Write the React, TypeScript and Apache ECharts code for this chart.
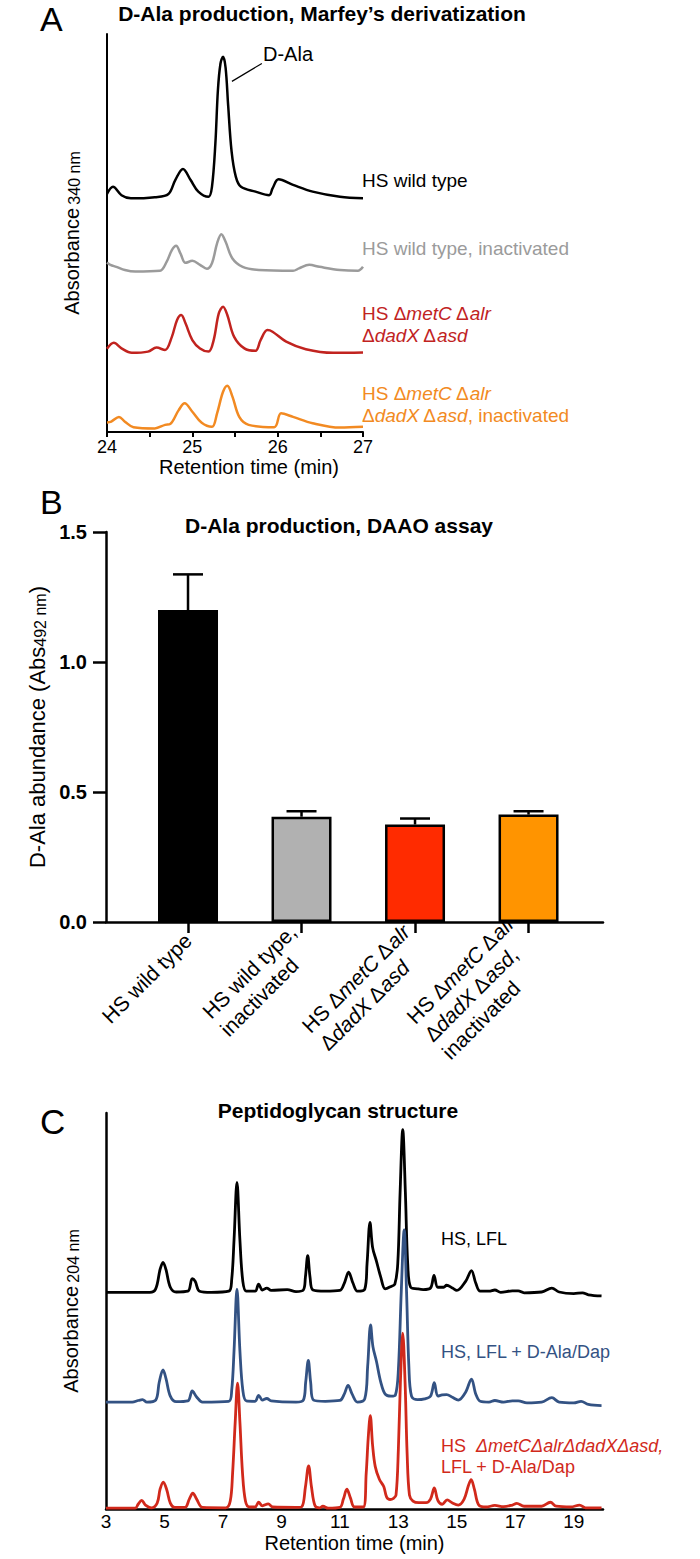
import React, { useEffect, useRef } from 'react';
import * as echarts from 'echarts';

const FONT = '"Liberation Sans", Arial, Helvetica, sans-serif';

// ---------------- Panel A : Marfey's derivatization chromatograms ----------------
const timeTicksA = [24, 25, 26, 27];
const traceA_wildType: [number, number][] = [
  [24.0, 59.8], [24.07, 61.6], [24.17, 59.5], [24.28, 58.7], [24.56, 59.0], [24.72, 59.8], [24.8, 63.3],
  [24.89, 66.1], [24.98, 63.3], [25.07, 60.4], [25.19, 59.1], [25.23, 61.6], [25.27, 72.5], [25.3, 86.0],
  [25.33, 92.6], [25.36, 94.3], [25.39, 91.5], [25.42, 82.0], [25.46, 70.5], [25.51, 64.1], [25.57, 61.6],
  [25.74, 60.4], [25.9, 59.5], [25.94, 61.2], [26.01, 63.5], [26.18, 62.1], [26.41, 60.4], [26.73, 59.1],
  [27.0, 58.7],
];
const traceA_wildTypeInact: [number, number][] = [
  [24.0, 42.6], [24.04, 42.0], [24.11, 41.5], [24.21, 40.7], [24.33, 40.3], [24.62, 40.5], [24.7, 42.8],
  [24.76, 45.7], [24.81, 46.8], [24.86, 44.9], [24.92, 42.5], [25.0, 43.0], [25.09, 42.0], [25.17, 41.0],
  [25.23, 42.4], [25.29, 47.4], [25.34, 49.7], [25.39, 47.8], [25.47, 43.6], [25.59, 41.5], [25.78, 40.7],
  [26.18, 40.5], [26.25, 41.1], [26.37, 42.0], [26.49, 41.5], [26.73, 40.7], [26.94, 40.5], [27.0, 41.5],
];
const traceA_mutant: [number, number][] = [
  [24.0, 20.9], [24.08, 22.4], [24.17, 21.0], [24.29, 19.9], [24.48, 20.2], [24.58, 21.2], [24.68, 20.6],
  [24.76, 23.9], [24.82, 28.1], [24.87, 29.4], [24.92, 27.3], [25.0, 23.1], [25.09, 21.0], [25.19, 20.2],
  [25.25, 23.1], [25.31, 29.8], [25.36, 31.5], [25.41, 29.4], [25.49, 23.9], [25.61, 21.0], [25.74, 20.4],
  [25.8, 23.1], [25.88, 25.6], [25.94, 25.2], [26.1, 22.7], [26.33, 20.8], [26.65, 19.9], [27.0, 20.0],
];
const traceA_mutantInact: [number, number][] = [
  [24.0, 2.4], [24.05, 2.6], [24.14, 3.8], [24.21, 2.6], [24.31, 1.2], [24.56, 0.9], [24.68, 1.8],
  [24.74, 2.0], [24.84, 5.5], [24.91, 7.2], [25.0, 5.1], [25.11, 2.3], [25.23, 1.3], [25.29, 4.7],
  [25.36, 10.1], [25.41, 11.6], [25.47, 8.9], [25.55, 3.8], [25.66, 1.8], [25.96, 1.2], [26.04, 4.7],
  [26.18, 3.8], [26.41, 2.2], [26.73, 1.1], [27.0, 1.3],
];
// D-Ala arrow: from label to peak (time, absorbance)
const arrowA: [number, number][] = [[25.815, 92.6], [25.464, 88.1]];

// ---------------- Panel B : DAAO assay ----------------
const strainsB = [
  '{n|HS wild type}',
  '{n|HS wild type,}\n{n|inactivated}',
  '{n|HS Δ}{i|metC}{n| Δ}{i|alr}\n{n|Δ}{i|dadX}{n| Δ}{i|asd}',
  '{n|HS Δ}{i|metC}{n| Δ}{i|alr}\n{n|Δ}{i|dadX}{n| Δ}{i|asd}{n|,}\n{n|inactivated}',
];
const abundanceB = [1.2, 0.405, 0.375, 0.413];
const errorB = [0.137, 0.021, 0.023, 0.013];
const barColorsB = ['#000000', '#b1b1b1', '#ff2b00', '#ff9400'];
const yTicksB = [0, 0.5, 1.0, 1.5];

// ---------------- Panel C : peptidoglycan chromatograms ----------------
const timeTicksC = [3, 5, 7, 9, 11, 13, 15, 17, 19];
const traceC_LFL: [number, number][] = [
  [3.0, 54.7], [4.5, 54.7], [4.7, 55.6], [4.85, 60.5], [4.95, 62.3], [5.05, 60.5], [5.2, 56.0], [5.4, 54.8],
  [5.8, 55.0], [5.95, 58.2], [6.05, 57.5], [6.2, 55.0], [6.6, 54.7], [7.2, 55.0], [7.3, 58], [7.38, 68],
  [7.48, 82.5], [7.58, 68], [7.68, 57.5], [7.8, 55.0], [8.1, 55.0], [8.22, 56.8], [8.35, 55.3], [8.5, 55.8],
  [8.65, 55.2], [9.2, 55.4], [9.5, 54.9], [9.75, 55.3], [9.82, 58.5], [9.9, 64.0], [9.98, 58.5], [10.08, 55.3],
  [10.5, 55.0], [11.0, 55.2], [11.15, 57.0], [11.3, 59.8], [11.45, 57.0], [11.6, 55.0], [11.85, 55.5],
  [11.93, 62], [12.03, 72.4], [12.12, 66], [12.25, 62.6], [12.4, 58.5], [12.55, 55.6], [12.75, 56.2],
  [12.88, 56.8], [12.98, 62], [13.06, 80], [13.15, 95.8], [13.24, 80], [13.32, 62], [13.42, 56], [13.65, 55.6],
  [13.85, 55.4], [14.1, 55.8], [14.22, 59.0], [14.35, 56.0], [14.55, 56.0], [14.65, 56.5], [14.85, 55.8],
  [15.0, 55.2], [15.3, 57.5], [15.5, 60.2], [15.65, 57.0], [15.8, 55.0], [16.1, 55.0], [16.3, 55.3],
  [16.5, 54.7], [16.9, 55.1], [17.1, 55.1], [17.3, 54.6], [17.9, 54.8], [18.25, 55.8], [18.5, 54.8],
  [19.0, 54.4], [19.3, 54.6], [19.5, 54.1], [19.95, 53.8],
];
const traceC_LFLsupp: [number, number][] = [
  [3.0, 27.0], [3.9, 27.0], [4.1, 27.4], [4.25, 27.6], [4.4, 27.0], [4.7, 27.5], [4.82, 32], [4.95, 35.1],
  [5.05, 33], [5.2, 28.5], [5.4, 27.1], [5.8, 27.3], [5.95, 29.8], [6.1, 28.3], [6.3, 27.0], [7.2, 27.2],
  [7.3, 30], [7.38, 40], [7.48, 55.5], [7.58, 40], [7.68, 30], [7.8, 27.3], [8.1, 27.2], [8.22, 28.7],
  [8.35, 27.5], [8.5, 27.9], [8.65, 27.3], [9.5, 27.0], [9.75, 27.5], [9.83, 32], [9.92, 37.5], [10.0, 32],
  [10.1, 27.5], [10.5, 27.2], [11.0, 27.4], [11.15, 29], [11.28, 31.2], [11.42, 29], [11.6, 27.0],
  [11.85, 27.8], [11.95, 36], [12.05, 46.5], [12.13, 41], [12.25, 37.3], [12.4, 32], [12.55, 29],
  [12.75, 28.5], [12.9, 28.8], [13.0, 35], [13.1, 55], [13.2, 70.5], [13.28, 55], [13.36, 36], [13.45, 28.5],
  [13.65, 27.6], [13.9, 27.8], [14.1, 28.5], [14.23, 31.9], [14.35, 28.5], [14.5, 28.8], [14.65, 28.9],
  [14.85, 28.2], [15.05, 27.5], [15.3, 29.5], [15.5, 32.8], [15.65, 29], [15.8, 27.2], [16.1, 27.0],
  [16.3, 27.4], [16.6, 27.0], [16.9, 27.3], [17.1, 27.3], [17.4, 26.8], [17.9, 27.0], [18.25, 28.1],
  [18.5, 27.0], [19.0, 26.8], [19.25, 27.2], [19.5, 26.4], [19.95, 26.1],
];
const traceC_mutant: [number, number][] = [
  [3.0, 0.2], [4.0, 0.2], [4.1, 1.2], [4.22, 2.2], [4.35, 1.0], [4.55, 0.3], [4.75, 1.5], [4.85, 5],
  [4.96, 6.8], [5.08, 4.8], [5.2, 1.5], [5.35, 0.4], [5.7, 0.4], [5.85, 2.5], [5.97, 4.0], [6.1, 2.5],
  [6.3, 0.4], [7.1, 0.3], [7.25, 2], [7.33, 9], [7.42, 22], [7.5, 31.8], [7.58, 22], [7.67, 9], [7.77, 2],
  [7.9, 0.5], [8.1, 0.5], [8.22, 1.7], [8.35, 0.8], [8.55, 1.3], [8.7, 0.5], [9.5, 0.4], [9.7, 0.6],
  [9.82, 5.5], [9.93, 10.9], [10.03, 5.5], [10.15, 0.8], [10.3, 0.3], [10.42, 0.7], [10.6, 0.2], [11.0, 0.4],
  [11.12, 2.5], [11.24, 5.0], [11.36, 2.8], [11.5, 0.5], [11.8, 0.5], [11.9, 9], [11.97, 18], [12.04, 23.6],
  [12.12, 16], [12.21, 10.7], [12.35, 7.5], [12.5, 5.7], [12.6, 3.0], [12.72, 2.4], [12.82, 2.6], [12.92, 3.5],
  [13.0, 15], [13.07, 32], [13.15, 44.4], [13.23, 32], [13.3, 14], [13.38, 3.5], [13.5, 2.0], [13.7, 1.6],
  [13.95, 1.6], [14.1, 2.5], [14.23, 5.3], [14.35, 2.2], [14.5, 1.2], [14.67, 2.3], [14.85, 1.5], [15.05, 1.0],
  [15.25, 2.5], [15.4, 6.0], [15.49, 7.4], [15.6, 5.0], [15.75, 1.0], [16.0, 0.5], [16.3, 0.9], [16.6, 0.6],
  [16.9, 1.0], [17.05, 1.4], [17.3, 0.7], [17.9, 0.7], [18.2, 1.7], [18.4, 0.7], [18.9, 0.5], [19.2, 1.0],
  [19.4, 0.3], [19.95, 0.3],
];

const RED_A = '#c1231f';
const ORANGE_A = '#f28a22';
const GRAY_A = '#9b9b9b';
const BLUE_C = '#335283';
const RED_C = '#d1291b';

function richStyles(size: number, color: string) {
  return {
    n: { fontFamily: FONT, fontSize: size, color, align: 'left' },
    i: { fontFamily: FONT, fontSize: size, color, fontStyle: 'italic', align: 'left' },
  };
}

function label(x: number, y: number, text: string, size: number, color: string, extra: any = {}) {
  return {
    type: 'text',
    x,
    y,
    z: 100,
    style: {
      text,
      fontFamily: FONT,
      fontSize: size,
      fill: color,
      align: 'left',
      verticalAlign: 'middle',
      rich: richStyles(size, color),
      ...extra,
    },
  };
}

const lineSeries = (data: [number, number][], color: string, axis: number, width = 2.5) => ({
  type: 'line',
  xAxisIndex: axis,
  yAxisIndex: axis,
  data,
  showSymbol: false,
  smooth: 0.35,
  lineStyle: { color, width },
  itemStyle: { color },
  z: 3,
});

export default function App() {
  const ref = useRef<HTMLDivElement>(null);
  useEffect(() => {
    if (!ref.current) return;
    const chart = echarts.init(ref.current, undefined, { renderer: 'svg' });
    const axisLine = (w: number) => ({ show: true, onZero: false, lineStyle: { color: '#000', width: w } });

    const option: any = {
      animation: false,
      backgroundColor: '#fff',
      textStyle: { fontFamily: FONT },
      grid: [
        { left: 107, top: 34, width: 256, height: 398 },
        { left: 106, top: 532, width: 497, height: 390 },
        { left: 106, top: 1113, width: 497, height: 396 },
      ],
      xAxis: [
        {
          gridIndex: 0, type: 'value', min: 24, max: 27, interval: 0.5,
          axisLine: axisLine(2),
          axisTick: { show: true, length: 5, lineStyle: { width: 2, color: '#000' } },
          splitLine: { show: false },
          axisLabel: {
            fontSize: 18, color: '#000', margin: 6, fontFamily: FONT,
            formatter: (v: number) => (timeTicksA.includes(v) ? String(v) : ''),
          },
          name: 'Retention time (min)', nameLocation: 'middle', nameGap: 19,
          nameTextStyle: { fontSize: 20, color: '#000', fontFamily: FONT, padding: [0, 0, 0, 28] },
        },
        {
          gridIndex: 1, type: 'value', min: -0.7225, max: 3.656,
          axisLine: axisLine(2.5),
          splitLine: { show: false },
          axisTick: { show: true, length: 11, customValues: [0, 1, 2, 3], lineStyle: { width: 2.5, color: '#000' } },
          axisLabel: {
            customValues: [0, 1, 2, 3], rotate: 45, margin: 15, fontSize: 21, color: '#000', fontFamily: FONT,
            lineHeight: 25,
            formatter: (v: number) => strainsB[Math.round(v)] ?? '',
            rich: {
              n: { fontFamily: FONT, fontSize: 21, color: '#000', align: 'left', lineHeight: 25 },
              i: { fontFamily: FONT, fontSize: 21, color: '#000', fontStyle: 'italic', align: 'left', lineHeight: 25 },
            },
          },
        },
        {
          gridIndex: 2, type: 'value', min: 3, max: 20, interval: 2,
          axisLine: axisLine(2.5),
          axisTick: { show: false },
          splitLine: { show: false },
          axisLabel: {
            fontSize: 19, color: '#000', margin: 3, fontFamily: FONT,
            formatter: (v: number) => (timeTicksC.includes(v) ? String(v) : ''),
          },
          name: 'Retention time (min)', nameLocation: 'middle', nameGap: 24,
          nameTextStyle: { fontSize: 20, color: '#000', fontFamily: FONT },
        },
      ],
      yAxis: [
        {
          gridIndex: 0, type: 'value', min: 0, max: 100,
          axisLine: axisLine(2), axisTick: { show: false }, axisLabel: { show: false }, splitLine: { show: false },
          name: '{m|Absorbance} {s|340 nm}', nameLocation: 'middle', nameRotate: 90, nameGap: 25,
          nameTextStyle: {
            rich: {
              m: { fontSize: 20, fontFamily: FONT, color: '#000', verticalAlign: 'bottom' },
              s: { fontSize: 16, fontFamily: FONT, color: '#000', verticalAlign: 'bottom' },
            },
          },
        },
        {
          gridIndex: 1, type: 'value', min: 0, max: 1.5, interval: 0.5,
          axisLine: axisLine(2.5),
          axisTick: { show: true, length: 13, lineStyle: { width: 2.5, color: '#000' } },
          splitLine: { show: false },
          axisLabel: {
            fontSize: 20, fontWeight: 'bold', color: '#000', margin: 19, fontFamily: FONT,
            formatter: (v: number) => (yTicksB.includes(v) ? v.toFixed(1) : ''),
          },
          name: '{m|D-Ala abundance (Abs}{s|492 nm}{m|)}', nameLocation: 'middle', nameRotate: 90, nameGap: 46,
          nameTextStyle: {
            rich: {
              m: { fontSize: 22, fontFamily: FONT, color: '#000', verticalAlign: 'bottom' },
              s: { fontSize: 16, fontFamily: FONT, color: '#000', verticalAlign: 'bottom' },
            },
          },
        },
        {
          gridIndex: 2, type: 'value', min: 0, max: 100,
          axisLine: axisLine(2.5), axisTick: { show: false }, axisLabel: { show: false }, splitLine: { show: false },
          name: '{m|Absorbance} {s|204 nm}', nameLocation: 'middle', nameRotate: 90, nameGap: 25,
          nameTextStyle: {
            rich: {
              m: { fontSize: 20, fontFamily: FONT, color: '#000', verticalAlign: 'bottom' },
              s: { fontSize: 16, fontFamily: FONT, color: '#000', verticalAlign: 'bottom' },
            },
          },
        },
      ],
      series: [
        {
          ...lineSeries(traceA_wildType, '#000', 0),
          markLine: {
            silent: true,
            symbol: ['none', 'arrow'],
            symbolSize: [0, 10],
            label: { show: false },
            lineStyle: { color: '#000', width: 1.2, type: 'solid' },
            data: [[{ coord: arrowA[0] }, { coord: arrowA[1] }]],
          },
        },
        lineSeries(traceA_wildTypeInact, GRAY_A, 0),
        lineSeries(traceA_mutant, RED_A, 0),
        lineSeries(traceA_mutantInact, ORANGE_A, 0),
        {
          type: 'bar',
          xAxisIndex: 1,
          yAxisIndex: 1,
          barWidth: 60,
          data: abundanceB.map((v, i) => ({
            value: [i, v],
            itemStyle: { color: barColorsB[i], borderColor: '#000', borderWidth: 2.5 },
          })),
          z: 2,
        },
        {
          type: 'custom',
          xAxisIndex: 1,
          yAxisIndex: 1,
          data: abundanceB.map((v, i) => [i, v, errorB[i]]),
          encode: { x: 0, y: 1 },
          z: 5,
          renderItem: (params: any, api: any) => {
            const x = api.value(0);
            const y = api.value(1);
            const e = api.value(2);
            const base = api.coord([x, y]);
            const top = api.coord([x, y + e]);
            const st = { stroke: '#000', lineWidth: 2.5 };
            return {
              type: 'group',
              children: [
                { type: 'line', shape: { x1: base[0], y1: base[1], x2: top[0], y2: top[1] }, style: st },
                { type: 'line', shape: { x1: top[0] - 15, y1: top[1], x2: top[0] + 15, y2: top[1] }, style: st },
              ],
            };
          },
        },
        lineSeries(traceC_LFL, '#000', 2, 2.8),
        lineSeries(traceC_LFLsupp, BLUE_C, 2, 2.8),
        lineSeries(traceC_mutant, RED_C, 2, 2.8),
      ],
      graphic: [
        // panel letters
        label(40, 19, 'A', 34, '#000'),
        label(40, 502, 'B', 34, '#000'),
        label(40, 1121, 'C', 35, '#000'),
        // titles
        { type: 'text', x: 322, y: 13, z: 100, style: { text: "D-Ala production, Marfey’s derivatization", fontFamily: FONT, fontSize: 21, fontWeight: 'bold', fill: '#000', align: 'center', verticalAlign: 'middle' } },
        { type: 'text', x: 339, y: 525, z: 100, style: { text: 'D-Ala production, DAAO assay', fontFamily: FONT, fontSize: 21, fontWeight: 'bold', fill: '#000', align: 'center', verticalAlign: 'middle' } },
        { type: 'text', x: 338, y: 1110, z: 100, style: { text: 'Peptidoglycan structure', fontFamily: FONT, fontSize: 21, fontWeight: 'bold', fill: '#000', align: 'center', verticalAlign: 'middle' } },
        // panel A annotations
        label(263, 54, 'D-Ala', 20, '#000'),
        label(362, 180, 'HS wild type', 19, '#000'),
        label(362, 248, 'HS wild type, inactivated', 19, GRAY_A),
        label(362, 313, '{n|HS Δ}{i|metC}{n| Δ}{i|alr}', 19, RED_A),
        label(362, 335, '{n|Δ}{i|dadX}{n| Δ}{i|asd}', 19, RED_A),
        label(362, 393, '{n|HS Δ}{i|metC}{n| Δ}{i|alr}', 19, ORANGE_A),
        label(362, 415, '{n|Δ}{i|dadX}{n| Δ}{i|asd}{n|, inactivated}', 19, ORANGE_A),
        // panel C annotations
        label(441, 1239, 'HS, LFL', 18, '#000'),
        label(441, 1352, 'HS, LFL + D-Ala/Dap', 18, BLUE_C),
        label(441, 1446, '{n|HS  }{i|ΔmetCΔalrΔdadXΔasd,}', 18, RED_C),
        label(441, 1467, 'LFL + D-Ala/Dap', 18, RED_C),
      ],
    };
    chart.setOption(option);
    return () => chart.dispose();
  }, []);
  return (
    <div
      ref={ref}
      style={{ position: 'absolute', left: 0, top: 0, width: 700, height: 1559, background: '#fff' }}
    />
  );
}
